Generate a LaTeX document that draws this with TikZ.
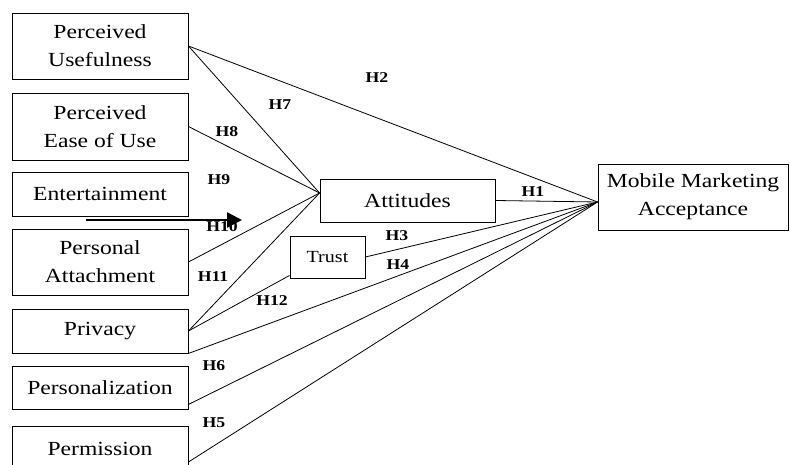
\documentclass[tikz,border=0pt]{standalone}
\usepackage{fontspec}
\setmainfont{Liberation Serif}[FakeStretch=1.18]
\usetikzlibrary{arrows.meta}
\begin{document}
\begin{tikzpicture}[x=1pt,y=-1pt,
  box/.style={draw, line width=0.9pt, inner sep=0pt, align=center,
    font=\fontsize{20}{28}\selectfont},
  link/.style={line width=0.8pt},
  hyp/.style={inner sep=0pt, font=\fontsize{15}{15}\selectfont\bfseries}]
\useasboundingbox (0,0) rectangle (790,465);
\clip (0,0) rectangle (790,465);
% left column
\node[box, minimum width=176pt, minimum height=66pt] (pu)   at (100,46)    {Perceived\\Usefulness};
\node[box, minimum width=176pt, minimum height=67pt] (peu)  at (100,126.5) {Perceived\\Ease of Use};
\node[box, minimum width=176pt, minimum height=44pt] (ent)  at (100,194)   {Entertainment};
\node[box, minimum width=176pt, minimum height=66pt] (pa)   at (100,262)   {Personal\\Attachment};
\node[box, minimum width=176pt, minimum height=44pt] (priv) at (100,331)   {Privacy};
\node[box, minimum width=176pt, minimum height=43pt] (pers) at (100,387.5) {Personalization};
\node[box, minimum width=176pt, minimum height=46pt] (perm) at (100,449)   {Permission};
% middle
\node[box, minimum width=175pt, minimum height=43pt] (att)   at (407.5,200.5) {Attitudes};
\node[box, minimum width=75pt,  minimum height=42pt, font=\fontsize{17}{20}\selectfont] (trust) at (327.5,257) {Trust};
% right
\node[box, minimum width=190pt, minimum height=66pt] (mma) at (693,197) {Mobile Marketing\\Acceptance};
% connection points
\coordinate (attin) at ([yshift=7.5pt]att.west);
\coordinate (mmain) at ([yshift=-5pt]mma.west);
\coordinate (trin)  at ([yshift=3pt]trust.south west);
\coordinate (persout) at ([yshift=5pt]pers.south east);
\coordinate (permout) at ([yshift=-13pt]perm.east);
\coordinate (arrS) at (86,220);
\coordinate (arrE) at (242,220);
% connectors to attitudes
\draw[link] (pu.east) -- (attin);
\draw[link] (peu.east) -- (attin);
\draw[link] (pa.east) -- (attin);
\draw[link] (priv.east) -- (attin);
\draw[link] (priv.east) -- (trin);
% connectors to MMA
\draw[link] (pu.east) -- (mmain);
\draw[link] (att.east) -- (mmain);
\draw[link] (trust.east) -- (mmain);
\draw[link] (priv.south east) -- (mmain);
\draw[link] (persout) -- (mmain);
\draw[link] (permout) -- (mmain);
% thick arrow
\draw[line width=2.6pt, -{Triangle[length=15pt,width=15pt]}] (arrS) -- (arrE);
% hypothesis labels
\node[hyp] (h1)  at (533,192) {H1};
\node[hyp] (h2)  at (377,78)  {H2};
\node[hyp] (h3)  at (397,236) {H3};
\node[hyp] (h4)  at (398,265) {H4};
\node[hyp] (h5)  at (214,423) {H5};
\node[hyp] (h6)  at (214,366) {H6};
\node[hyp] (h7)  at (280,105) {H7};
\node[hyp] (h8)  at (227,132) {H8};
\node[hyp] (h9)  at (219,180) {H9};
\node[hyp] (h10) at (222,227) {H10};
\node[hyp] (h11) at (213,277) {H11};
\node[hyp] (h12) at (272,301) {H12};
\end{tikzpicture}
\end{document}
